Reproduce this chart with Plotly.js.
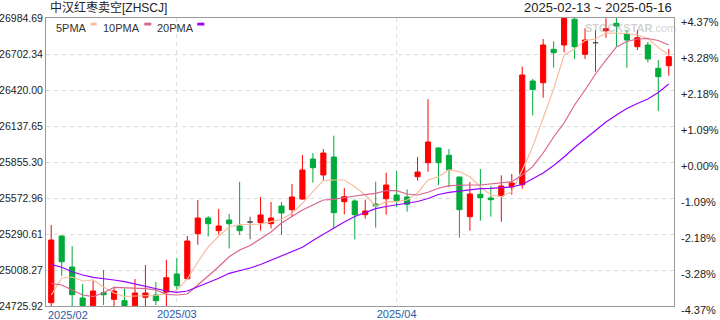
<!DOCTYPE html>
<html><head><meta charset="utf-8">
<script src="https://cdn.plot.ly/plotly-3.0.1.min.js"></script>
<style>html,body{margin:0;padding:0;background:#fff;}#chart{width:720px;height:320px;}</style>
</head><body><div id="chart"></div>
<script>
const dates = [
'2025-02-13','2025-02-14','2025-02-17','2025-02-18','2025-02-19','2025-02-20','2025-02-21','2025-02-24','2025-02-25','2025-02-26','2025-02-27','2025-02-28',
'2025-03-03','2025-03-04','2025-03-05','2025-03-06','2025-03-07','2025-03-10','2025-03-11','2025-03-12','2025-03-13','2025-03-14',
'2025-03-17','2025-03-18','2025-03-19','2025-03-20','2025-03-21','2025-03-24','2025-03-25','2025-03-26','2025-03-27','2025-03-28','2025-03-31',
'2025-04-01','2025-04-02','2025-04-03','2025-04-07','2025-04-08','2025-04-09','2025-04-10','2025-04-11','2025-04-14','2025-04-15','2025-04-16',
'2025-04-17','2025-04-18','2025-04-21','2025-04-22','2025-04-23','2025-04-24','2025-04-25','2025-04-28','2025-04-29','2025-04-30',
'2025-05-09','2025-05-12','2025-05-13','2025-05-14','2025-05-15','2025-05-16'];
const openP  = [24751.8,25274.9,25031.8,24788.7,24728.3,24830.3,24778.5,24767.5,24728.3,24794.2,24812.2,24833.4,24976.9,24940.1,25293.0,25416.1,25316.5,25400.4,25353.4,25384.8,
25379.3,25371.4,25510.2,25481.2,25565.1,25878.9,25753.4,25894.5,25544.0,25549.5,25442.0,25525.9,25567.5,25596.5,25580.8,25740.0,25849.8,25965.1,25907.9,25737.7,
25426.3,25602.0,25573.0,25588.7,25659.3,25677.3,26490.6,26477.3,26739.2,26773.0,26975.0,26700.0,26791.0,26885.1,26943.2,26859.2,26759.6,26773.0,26590.2,26610.6];
const highP  = [25361.2,25280.0,25196.5,24898.5,24924.4,25008.3,24877.3,24861.6,24937.7,25047.5,24914.2,25089.1,25102.4,25274.9,25557.3,25431.8,25486.7,25447.5,25700.8,25426.3,
25580.8,25541.6,25541.6,25682.8,25910.2,25925.9,25957.3,26061.6,25651.4,25562.8,25559.7,25700.8,25771.4,25784.7,25641.2,25894.5,26347.1,25970.6,25957.3,25737.7,
25698.5,25800.4,25667.1,25751.0,25761.2,26602.8,26506.3,26820.0,26802.0,26984.7,26984.7,26903.9,26890.6,26982.4,26984.7,26890.6,26890.6,26796.5,26655.3,26741.6];
const lowP   = [24725.9,24961.2,24725.9,24725.9,24725.9,24733.8,24725.9,24725.9,24725.9,24725.9,24733.8,24725.9,24851.4,24935.4,25206.7,25272.6,25285.1,25176.9,25282.8,25249.1,
25316.5,25335.3,25282.8,25426.3,25560.0,25693.0,25714.2,25329.9,25445.1,25249.1,25410.6,25340.1,25442.0,25500.0,25465.5,25708.7,25779.3,25674.9,25656.9,25261.6,
25316.5,25395.0,25426.3,25387.1,25598.9,25645.9,26220.0,26359.6,26594.9,26715.7,26663.2,26663.2,26563.6,26830.2,26759.6,26594.9,26733.7,26637.3,26255.3,26532.2];
const closeP = [25243.5,25073.4,24814.5,24728.3,24843.6,24814.5,24843.6,24728.3,24827.9,24827.9,24767.5,24947.9,24885.2,25235.7,25416.1,25371.4,25353.4,25371.4,25316.5,25384.8,
25439.7,25416.1,25455.3,25580.8,25792.6,25810.6,25925.9,25457.7,25583.2,25442.0,25471.0,25510.2,25674.9,25551.8,25523.6,25776.9,26012.2,25849.8,25795.0,25481.2,
25604.4,25575.3,25559.7,25667.1,25690.6,26537.7,26424.0,26773.0,26712.6,26980.8,26759.6,26812.2,26791.0,26900.8,26922.0,26812.2,26830.2,26663.2,26524.3,26681.2];
const ma5  = [24812.2,24945.5,24953.4,24922.0,24929.9,24875.0,24827.9,24800.5,24804.4,24804.4,24808.3,24824.0,24851.4,24937.7,25071.0,25188.7,25274.9,25345.5,25365.1,25365.1,
25369.1,25387.1,25405.9,25453.0,25531.4,25622.4,25708.7,25714.2,25714.2,25661.6,25596.5,25510.2,25544.0,25544.0,25557.3,25612.2,25714.2,25740.0,25792.6,25779.3,
25740.0,25661.6,25596.5,25583.2,25622.4,25792.6,25975.3,26200.4,26427.9,26694.5,26741.6,26808.3,26820.0,26867.1,26867.1,26863.1,26851.4,26823.9,26753.4,26694.5];
const ma10 = [24904.0,24890.6,24851.4,24812.2,24798.9,24830.3,24872.6,24869.5,24864.8,24861.6,24851.4,24817.7,24812.2,24820.1,24890.6,24961.2,25034.2,25112.6,25165.1,25200.5,
25255.3,25306.3,25376.9,25426.3,25478.9,25518.1,25557.3,25562.8,25578.5,25588.7,25598.9,25609.8,25630.2,25630.2,25604.4,25596.5,25617.7,25649.1,25669.5,25674.9,
25674.9,25674.9,25682.8,25688.3,25700.8,25753.4,25818.5,25925.9,26051.4,26161.2,26302.4,26420.0,26545.5,26655.3,26757.3,26800.4,26820.0,26823.9,26808.3,26773.0];
const ma20 = [25053.0,25029.5,24994.9,24969.1,24951.0,24943.2,24929.9,24916.5,24898.5,24882.8,24864.8,24843.6,24833.4,24843.6,24877.3,24908.7,24943.2,24982.4,25000.4,25024.0,
25051.4,25086.7,25122.0,25153.4,25186.3,25239.7,25288.3,25337.7,25384.8,25427.9,25459.3,25489.1,25506.3,25519.7,25529.8,25545.5,25569.1,25600.4,25617.7,25627.9,
25638.1,25645.9,25649.1,25651.4,25659.3,25678.9,25722.0,25769.1,25827.9,25894.5,25969.1,26035.7,26102.4,26169.1,26224.0,26274.9,26314.1,26349.4,26400.4,26467.1];
const yTickVals = [24725.92,25008.27,25290.61,25572.96,25855.30,26137.65,26420.00,26702.34,26984.69];
const yTickText = ['24725.92','25008.27','25290.61','25572.96','25855.30','26137.65','26420.00','26702.34','26984.69'];
const pctTickText = ['-4.37%','-3.28%','-2.18%','-1.09%','+0.00%','+1.09%','+2.18%','+3.28%','+4.37%'];
const monthTickDates = ['2025-03-03','2025-04-01'];
const monthTickText = ['2025/03','2025/04'];
const firstMonthLabel = '2025/02';
const titleText = '中汉红枣卖空[ZHSCJ]';
const rangeText = '2025-02-13 ~ 2025-05-16';
const maNames = ['5PMA','10PMA','20PMA'];

const RED='#ff0000', GREEN='#00aa3b', GRAY='#555555';
const MA_COLORS=['#f8bc9e','#d9648d','#9900ff'];

function subset(pred){
  const o={x:[],open:[],high:[],low:[],close:[]};
  dates.forEach((d,i)=>{ if(pred(openP[i],closeP[i])){o.x.push(d);o.open.push(openP[i]);o.high.push(highP[i]);o.low.push(lowP[i]);o.close.push(closeP[i]);} });
  return o;
}
function candle(s,color){
  return Object.assign({type:'candlestick',xaxis:'x',yaxis:'y',whiskerwidth:0,hoverinfo:'skip',showlegend:false,
    increasing:{line:{color:color,width:1},fillcolor:color},
    decreasing:{line:{color:color,width:1},fillcolor:color}},s);
}
const traces=[
  candle(subset((o,c)=>c>o),RED),
  candle(subset((o,c)=>c<o),GREEN),
  candle(subset((o,c)=>c===o),GRAY),
];
[ma5,ma10,ma20].forEach((m,k)=>traces.push({type:'scatter',mode:'lines',x:dates,y:m,line:{color:MA_COLORS[k],width:1.2},hoverinfo:'skip',showlegend:false}));
// invisible carrier so the right-hand percent axis is drawn
traces.push({type:'scatter',mode:'lines',x:dates,y:closeP,yaxis:'y2',line:{width:0,color:'rgba(0,0,0,0)'},hoverinfo:'skip',showlegend:false});

const FONT='"Liberation Sans", Arial, "Noto Sans CJK SC", sans-serif';
const annotations=[
  {xref:'paper',yref:'paper',x:0.003,y:1,xanchor:'left',yanchor:'bottom',yshift:1,text:titleText,showarrow:false,font:{size:12,color:'#222',family:FONT}},
  {xref:'paper',yref:'paper',x:1,y:1,xanchor:'right',yanchor:'bottom',yshift:1,text:rangeText,showarrow:false,font:{size:13,color:'#222',family:FONT}},
  {xref:'paper',yref:'paper',x:0,y:0,xanchor:'left',yanchor:'top',yshift:-1,text:firstMonthLabel,showarrow:false,font:{size:11,color:'#2a5ba8',family:FONT}},
  {xref:'paper',yref:'paper',x:0.93,y:0.965,xanchor:'center',yanchor:'middle',text:'<b>STOCKSTAR</b>.com',showarrow:false,font:{size:11,color:'rgba(150,150,150,0.45)',family:FONT}},
];
const legTextX=[0.0159,0.0912,0.1763];
const swX=[[0.0712,0.0807],[0.1565,0.1677],[0.2409,0.2521]];
const shapes=[];
maNames.forEach((n,k)=>{
  annotations.push({xref:'paper',yref:'paper',x:legTextX[k],y:0.9642,xanchor:'left',yanchor:'middle',text:n,showarrow:false,font:{size:11,color:'#333',family:FONT},xshift:-2});
  shapes.push({type:'rect',xref:'paper',yref:'paper',x0:swX[k][0],x1:swX[k][1],y0:0.974,y1:0.9837,fillcolor:MA_COLORS[k],line:{width:0}});
});

const layout={
  width:720,height:320,margin:{l:46,r:46,t:18,b:14},
  paper_bgcolor:'#fff',plot_bgcolor:'#fff',showlegend:false,
  font:{family:FONT,size:11,color:'#222'},
  xaxis:{type:'category',categoryorder:'array',categoryarray:dates,range:[-0.5,dates.length-0.5],
    tickmode:'array',tickvals:monthTickDates,ticktext:monthTickText,ticks:'',ticklabelstandoff:-2,
    tickfont:{size:11,color:'#2a5ba8'},showgrid:true,gridcolor:'#dddddd',griddash:'4px,4px',gridwidth:1,
    showline:true,linecolor:'#999',linewidth:1,mirror:true,zeroline:false,rangeslider:{visible:false},fixedrange:true},
  yaxis:{range:[yTickVals[0],yTickVals[yTickVals.length-1]],tickmode:'array',tickvals:yTickVals,ticktext:yTickText,ticks:'',
    tickfont:{size:10.5,color:'#222'},showgrid:true,gridcolor:'#dddddd',griddash:'4px,4px',gridwidth:1,
    showline:true,linecolor:'#999',linewidth:1,mirror:true,zeroline:false,fixedrange:true},
  yaxis2:{overlaying:'y',side:'right',range:[yTickVals[0],yTickVals[yTickVals.length-1]],tickmode:'array',tickvals:yTickVals,ticktext:pctTickText,ticks:'',
    tickfont:{size:11,color:'#222'},showgrid:false,zeroline:false,showline:false,ticklabelshift:4,ticklabelstandoff:6,fixedrange:true},
  annotations:annotations,shapes:shapes
};
Plotly.newPlot('chart',traces,layout,{displayModeBar:false,staticPlot:true});
</script></body></html>
